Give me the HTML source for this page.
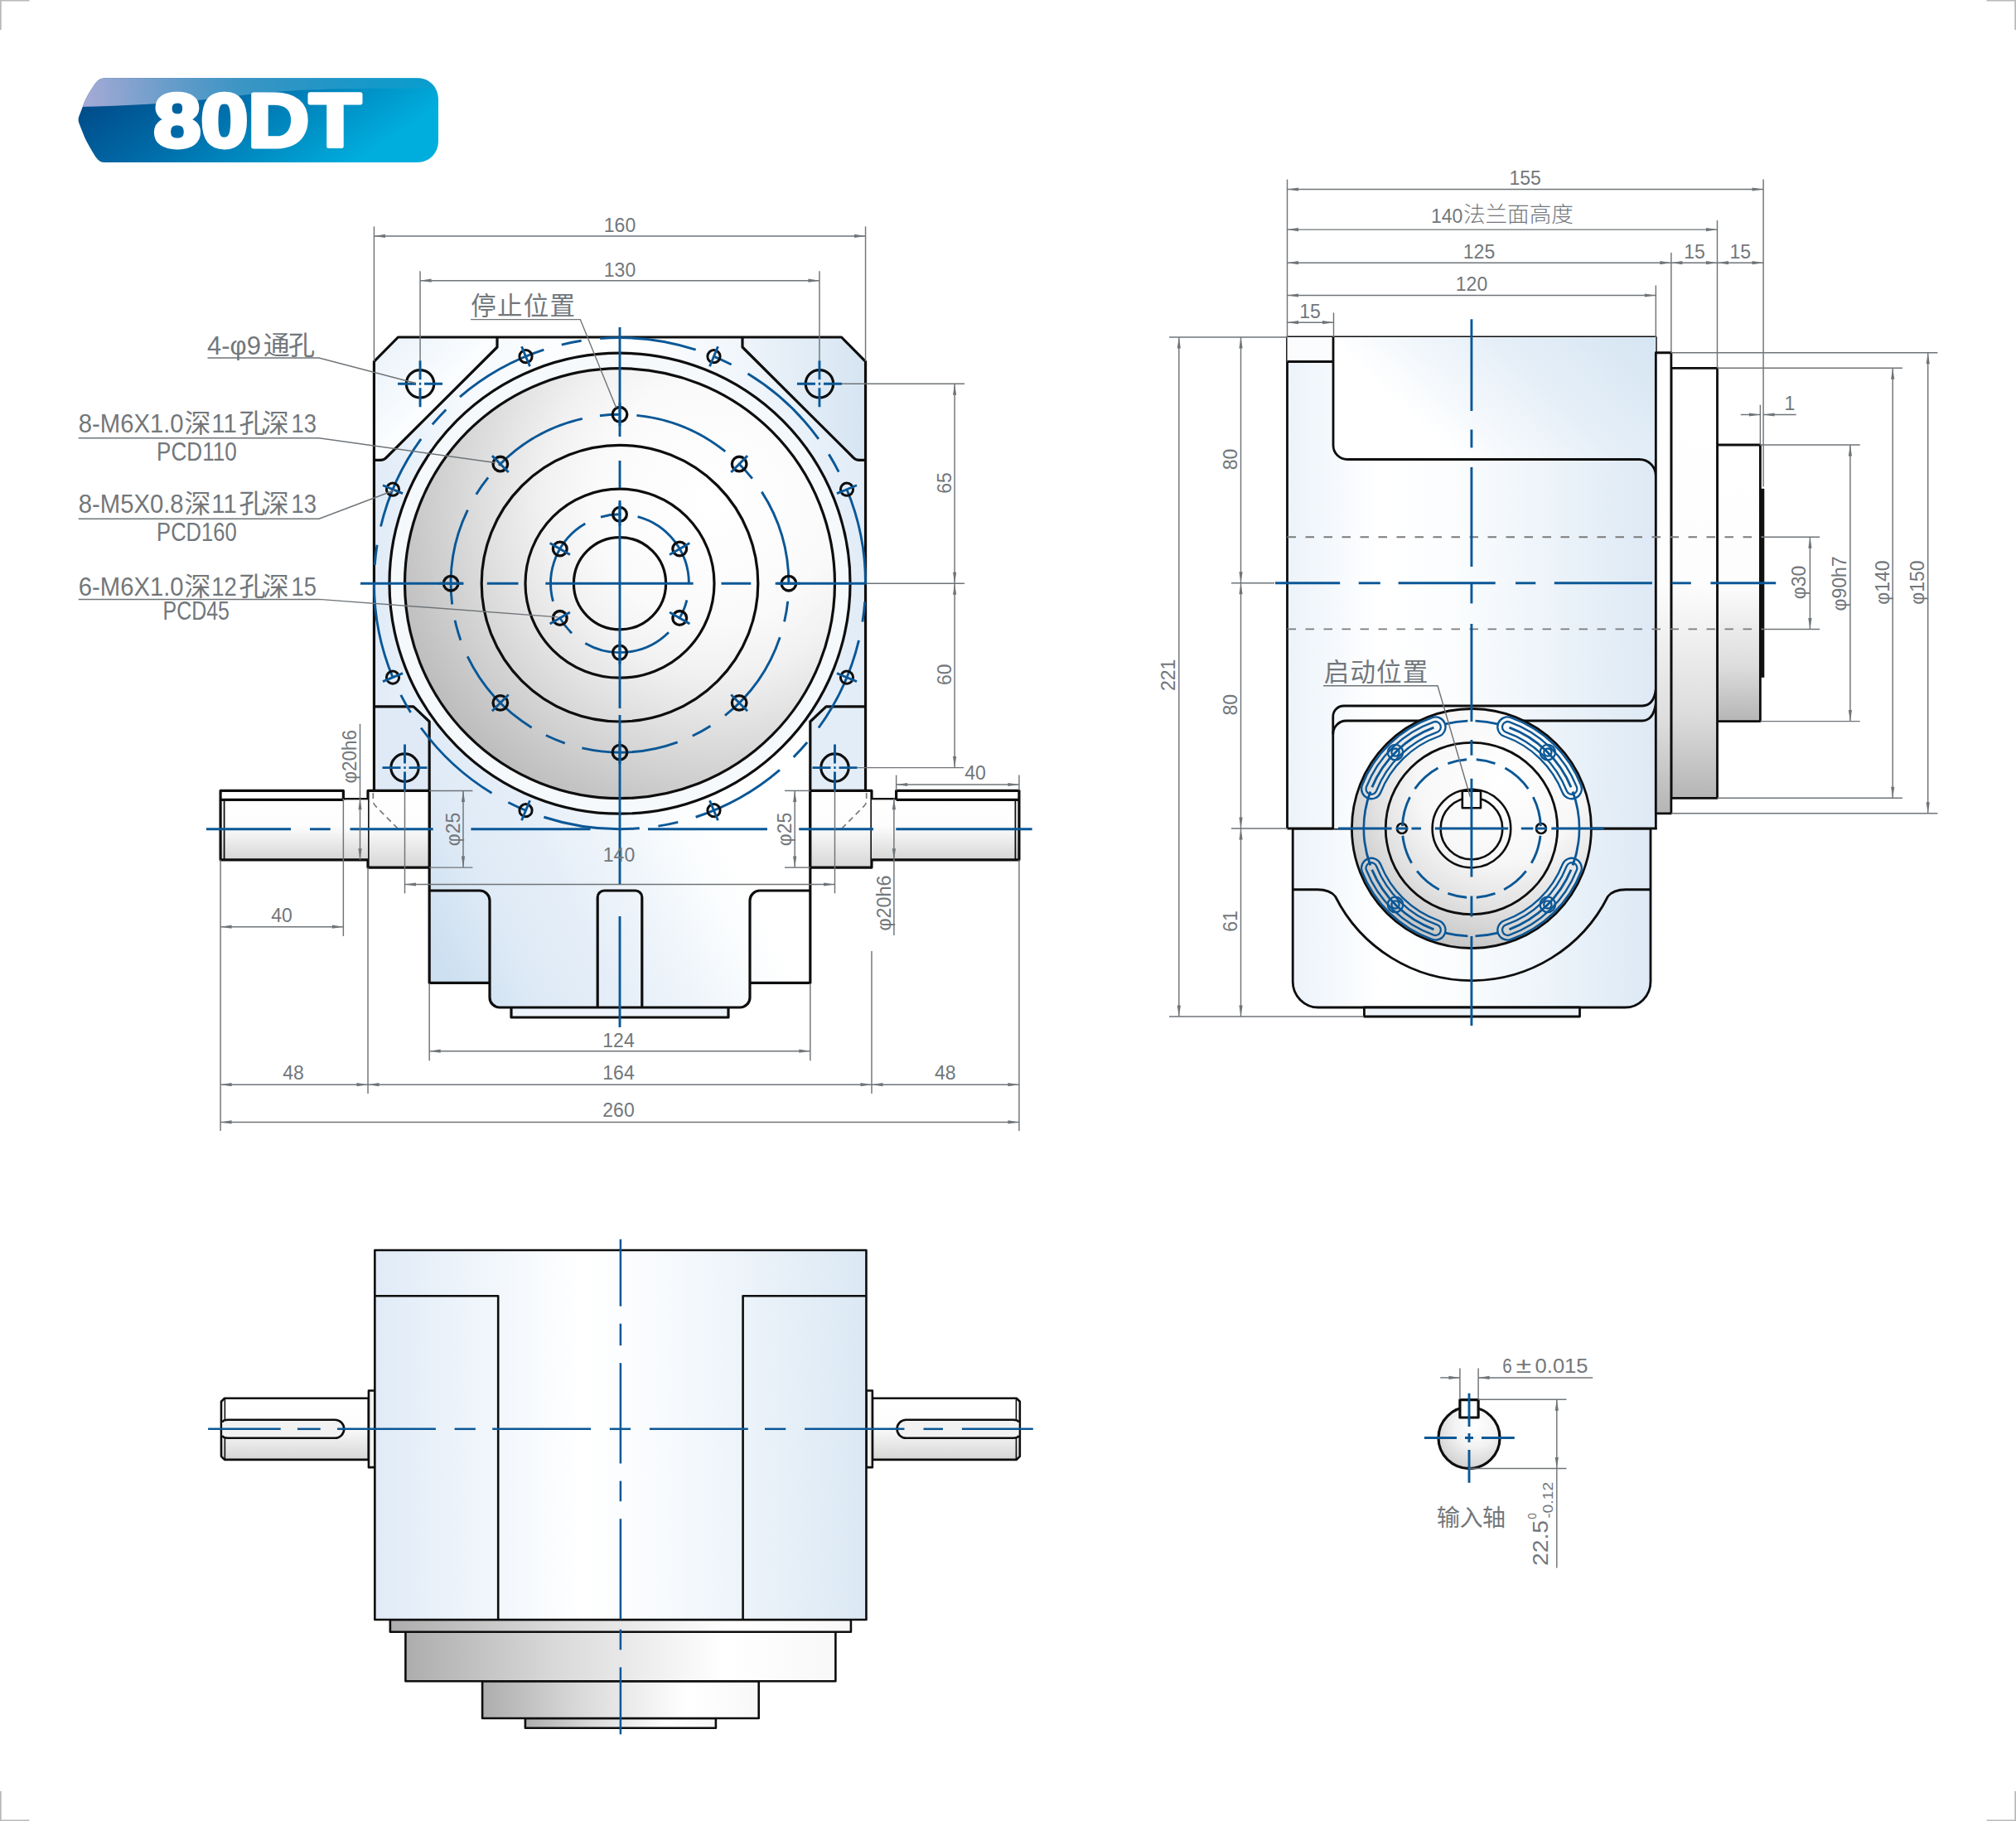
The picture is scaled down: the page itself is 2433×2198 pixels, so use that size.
<!DOCTYPE html>
<html lang="zh-CN"><head><meta charset="utf-8"><title>80DT</title>
<style>
html,body{margin:0;padding:0;background:#fff;}
body{width:2433px;height:2198px;overflow:hidden;}
svg{display:block;}
.k{stroke:#0e0e0e;stroke-width:var(--kw,3.2);stroke-linejoin:round;stroke-linecap:butt;}
.k2{stroke:#0e0e0e;stroke-width:2.6;stroke-linejoin:round;}
.b{stroke:#0a5796;stroke-width:var(--bw,2.9);}
.g{stroke:#6f7478;stroke-width:1.45;}
.hd{stroke:#7b7b7b;stroke-width:1.9;stroke-dasharray:10.5 11.5;}
.hd2{stroke:#7b7b7b;stroke-width:1.7;stroke-dasharray:7 5;}
.ar{fill:#6f7478;stroke:none;}
.t{font-family:"Liberation Sans","Noto Sans CJK SC",sans-serif;fill:#72777b;}
.m{font-family:"Liberation Sans","Noto Sans CJK SC",sans-serif;fill:#72777b;}
.c{font-family:"Liberation Sans","Noto Sans CJK SC",sans-serif;font-weight:400;fill:#72777b;}
.nf{stroke:none;}
</style></head><body>
<svg width="2433" height="2198" viewBox="0 0 2433 2198">
<defs>
<linearGradient id="badge" x1="0" y1="0" x2="1" y2="0.35">
<stop offset="0" stop-color="#00417f"/><stop offset="0.45" stop-color="#006ba8"/><stop offset="1" stop-color="#00aedd"/>
</linearGradient>
<linearGradient id="gloss" x1="0" y1="0" x2="1" y2="0">
<stop offset="0" stop-color="#b7b1dc" stop-opacity="0.95"/><stop offset="0.45" stop-color="#4aa0cc" stop-opacity="0.8"/><stop offset="1" stop-color="#0b9ccb" stop-opacity="0.6"/>
</linearGradient>
<linearGradient id="bodyF" x1="0" y1="0" x2="1" y2="0">
<stop offset="0" stop-color="#e0ebf7"/><stop offset="0.18" stop-color="#f5f9fd"/><stop offset="0.5" stop-color="#ffffff"/><stop offset="0.85" stop-color="#ebf2fa"/><stop offset="1" stop-color="#e1ecf7"/>
</linearGradient>
<linearGradient id="lowF" x1="0" y1="0.75" x2="0.9" y2="0.4">
<stop offset="0" stop-color="#cde0f1"/><stop offset="0.1" stop-color="#d6e5f3"/><stop offset="0.2" stop-color="#deeaf6"/><stop offset="0.4" stop-color="#e5eef8"/><stop offset="0.58" stop-color="#eef4fa"/><stop offset="0.73" stop-color="#f8fbfd"/><stop offset="0.88" stop-color="#ffffff"/>
</linearGradient>
<linearGradient id="earL" x1="0" y1="0" x2="1" y2="1">
<stop offset="0" stop-color="#e9f1f9"/><stop offset="0.5" stop-color="#fbfdff"/><stop offset="1" stop-color="#e4eef8"/>
</linearGradient>
<linearGradient id="earR" x1="0" y1="0" x2="1" y2="0">
<stop offset="0" stop-color="#eef4fa"/><stop offset="1" stop-color="#d6e5f2"/>
</linearGradient>
<radialGradient id="disc" cx="0.72" cy="0.31" r="1" fx="0.72" fy="0.31">
<stop offset="0" stop-color="#ffffff"/><stop offset="0.28" stop-color="#fafafa"/><stop offset="0.4" stop-color="#f1f1f1"/><stop offset="0.5" stop-color="#e4e4e4"/><stop offset="0.58" stop-color="#d9d9d9"/><stop offset="0.66" stop-color="#cecece"/><stop offset="0.74" stop-color="#c3c3c3"/><stop offset="0.85" stop-color="#b5b5b5"/><stop offset="1" stop-color="#aaaaaa"/>
</radialGradient>
<linearGradient id="shaft" x1="0" y1="0" x2="0" y2="1">
<stop offset="0" stop-color="#ffffff"/><stop offset="0.45" stop-color="#fdfdfd"/><stop offset="1" stop-color="#d6d6d6"/>
</linearGradient>
<linearGradient id="sideB" x1="0" y1="0" x2="1" y2="0">
<stop offset="0" stop-color="#ecf3fa"/><stop offset="0.25" stop-color="#ffffff"/><stop offset="0.45" stop-color="#fbfdfe"/><stop offset="1" stop-color="#dde9f5"/>
</linearGradient>
<linearGradient id="sideU" x1="0" y1="0.4" x2="1" y2="0">
<stop offset="0" stop-color="#ffffff"/><stop offset="0.12" stop-color="#ffffff"/><stop offset="0.55" stop-color="#e6eff8"/><stop offset="1" stop-color="#d5e5f2"/>
</linearGradient>
<linearGradient id="sideD" x1="0" y1="0" x2="0" y2="1">
<stop offset="0" stop-color="#ffffff"/><stop offset="0.5" stop-color="#fdfdfd"/><stop offset="0.8" stop-color="#dddddd"/><stop offset="1" stop-color="#b5b5b5"/>
</linearGradient>
<radialGradient id="flange" cx="0.62" cy="0.3" r="0.85" fx="0.62" fy="0.3">
<stop offset="0" stop-color="#ffffff"/><stop offset="0.4" stop-color="#f7f7f7"/><stop offset="0.62" stop-color="#e2e2e2"/><stop offset="0.8" stop-color="#cbcbcb"/><stop offset="1" stop-color="#b2b2b2"/>
</radialGradient>
<linearGradient id="botB" x1="0" y1="0" x2="1" y2="0">
<stop offset="0" stop-color="#e0ebf7"/><stop offset="0.42" stop-color="#ffffff"/><stop offset="0.6" stop-color="#f7fafd"/><stop offset="1" stop-color="#dbe8f4"/>
</linearGradient>
<linearGradient id="botD" x1="0" y1="0" x2="1" y2="0">
<stop offset="0" stop-color="#adadad"/><stop offset="0.35" stop-color="#d9d9d9"/><stop offset="0.74" stop-color="#ffffff"/><stop offset="1" stop-color="#f8f8f8"/>
</linearGradient>
<radialGradient id="keyc" cx="0.6" cy="0.3" r="0.85" fx="0.6" fy="0.3">
<stop offset="0" stop-color="#ffffff"/><stop offset="0.4" stop-color="#f3f3f3"/><stop offset="0.75" stop-color="#d8d8d8"/><stop offset="1" stop-color="#c0c0c0"/>
</radialGradient>
</defs>
<rect x="0" y="0" width="2433" height="2198" fill="#ffffff"/>
<path d="M0 0.7H35.5M0.8 0V36M2433 0.7H2397.5M2432.2 0V36M0 2197.3H35.5M0.8 2198V2162M2433 2197.3H2397.5M2432.2 2198V2162" stroke="#b9b9b9" stroke-width="1.8" fill="none"/>

<g id="badge80">
<path d="M127 94.2H504a25 25 0 0 1 25 25V171a25 25 0 0 1 -25 25H126C118 195.9 115 188.5 110.6 181.5C108 177.5 105 172 101.8 165.1L95.5 149Q93.6 144.5 95.5 140L101.8 123.6C105 116 111 106 116 99.6C118 97 121 94.2 127 94.2Z" fill="url(#badge)"/>
<clipPath id="bclip"><path d="M127 94.2H504a25 25 0 0 1 25 25V171a25 25 0 0 1 -25 25H126C118 195.9 115 188.5 110.6 181.5C108 177.5 105 172 101.8 165.1L95.5 149Q93.6 144.5 95.5 140L101.8 123.6C105 116 111 106 116 99.6C118 97 121 94.2 127 94.2Z"/></clipPath>
<path clip-path="url(#bclip)" d="M90 90H535V106.5C490 107.5 380 104 300 114C230 123 170 127.5 90 129Z" fill="url(#gloss)"/>
<text x="310.6" y="176.6" font-family="'Liberation Sans',sans-serif" font-weight="bold" font-size="90" text-anchor="middle" fill="#fff" stroke="#fff" stroke-width="5" stroke-linejoin="round" textLength="250" lengthAdjust="spacingAndGlyphs">80DT</text>
</g>
<g id="front">
<path class="nf" fill="url(#bodyF)" d="M451.44 436.4L480.44 407.0H1015.56L1044.56 436.4V954.42H451.44Z"/>
<path class="nf" fill="url(#lowF)" d="M518.17 871V1186.3H591V1204a12 12 0 0 0 12 12H893a12 12 0 0 0 12 -12V1186.3H977.83V871Z"/>
<rect class="nf" fill="#edf3fa" x="617" y="1216" width="262" height="12"/>
<path class="nf" fill="url(#earL)" d="M451.44 436.4L480.44 407.0H600V419L465 553.3L461 555.3H451.44Z"/>
<path class="nf" fill="url(#earR)" d="M1044.56 436.4L1015.56 407.0H896V419L1031 553.3L1035 555.3H1044.56Z"/>
<path class="nf" fill="#dfeaf6" d="M451.44 852.9H499L518.17 871V954.42H451.44Z"/>
<path class="nf" fill="#e3edf7" d="M1044.56 852.9H997L977.83 871V954.42H1044.56Z"/>
<circle class="k" cx="748" cy="704.2" r="278.02" fill="#f6f9fc"/>
<circle class="k" cx="748" cy="704.2" r="259.49" fill="url(#disc)"/>
<circle class="k" cx="748" cy="704.2" r="166.81"  fill="none"/>
<circle class="k" cx="748" cy="704.2" r="114"  fill="none"/>
<circle class="k" cx="748" cy="704.2" r="55.6"  fill="none"/>
<path class="k" d="M451.44 954.42V436.4L480.44 407.0H1015.56L1044.56 436.4V954.42"  fill="none"/>
<path class="k" d="M600 407.0V419L466 552.5Q463.5 555.3 459 555.3H451.44"  fill="none"/>
<path class="k" d="M896 407.0V419L1030 552.5Q1032.5 555.3 1037 555.3H1044.56"  fill="none"/>
<path class="k" d="M451.44 852.9H499L518.17 871V1186.3H591"  fill="none"/>
<path class="k" d="M1044.56 852.9H997L977.83 871V1186.3H905"  fill="none"/>
<path class="k" d="M518.17 1075H579a12 12 0 0 1 12 12V1204a12 12 0 0 0 12 12H893a12 12 0 0 0 12 -12V1087a12 12 0 0 1 12 -12H977.83"  fill="none"/>
<path class="k" d="M721.2 1216V1083a8 8 0 0 1 8 -8H766.8a8 8 0 0 1 8 8V1216"  fill="none"/>
<path class="k" d="M617 1216V1228H879V1216"  fill="none"/>
<rect class="k" x="444.03" y="954.42" width="74.14" height="92.68" fill="url(#shaft)"/>
<rect class="k" x="977.83" y="954.42" width="74.14" height="92.68" fill="url(#shaft)"/>
<rect class="nf" x="266.09" y="963.69" width="177.94" height="74.14" fill="url(#shaft)"/>
<rect class="nf" x="266.09" y="954.4" width="148.28" height="11" fill="#ffffff"/>
<path class="k" d="M444.03 1037.83H266.09V954.4H414.37V965.4"  fill="none"/>
<line class="k" x1="266.09" y1="965.4" x2="414.37" y2="965.4" />
<line class="k2" x1="414.37" y1="964.2" x2="444.03" y2="964.2" style="stroke-width:2.3"/>
<line class="k2" x1="270.59" y1="966" x2="270.59" y2="1037.83" style="stroke-width:1.8"/>
<rect class="nf" x="1051.97" y="963.69" width="177.94" height="74.14" fill="url(#shaft)"/>
<rect class="nf" x="1081.63" y="954.4" width="148.28" height="11" fill="#ffffff"/>
<path class="k" d="M1051.97 1037.83H1229.91V954.4H1081.63V965.4"  fill="none"/>
<line class="k" x1="1229.91" y1="965.4" x2="1081.63" y2="965.4" />
<line class="k2" x1="1081.63" y1="964.2" x2="1051.97" y2="964.2" style="stroke-width:2.3"/>
<line class="k2" x1="1225.41" y1="966" x2="1225.41" y2="1037.83" style="stroke-width:1.8"/>
<path class="hd2" d="M450.3 957V966Q450.3 970 453 972.7L480 1000"  fill="none"/>
<path class="hd2" d="M1045.7 957V966Q1045.7 970 1043 972.7L1016 1000"  fill="none"/>
<circle class="k" cx="507.05" cy="463.25" r="16.68"  fill="none"/>
<path class="b" d="M480.05 463.25H502.05M505.85 463.25H508.25M512.05 463.25H534.05M507.05 435.25V458.25M507.05 468.25V491.25"  fill="none"/>
<circle class="k" cx="988.95" cy="463.25" r="16.68"  fill="none"/>
<path class="b" d="M961.95 463.25H983.95M987.75 463.25H990.15M993.95 463.25H1015.95M988.95 435.25V458.25M988.95 468.25V491.25"  fill="none"/>
<circle class="k" cx="488.51" cy="926.62" r="16.68"  fill="none"/>
<path class="b" d="M461.51 926.62H483.51M487.31 926.62H489.71M493.51 926.62H515.51M488.51 898.62V921.62M488.51 931.62V954.62"  fill="none"/>
<circle class="k" cx="1007.49" cy="926.62" r="16.68"  fill="none"/>
<path class="b" d="M980.49 926.62H1002.49M1006.29 926.62H1008.69M1012.49 926.62H1034.49M1007.49 898.62V921.62M1007.49 931.62V954.62"  fill="none"/>
<path class="b" d="M555.01 479.03A296.56 296.56 0 0 1 656.36 422.15"  fill="none"/>
<path class="b" d="M521.82 512.39A296.56 296.56 0 0 1 538.3 494.5"  fill="none"/>
<path class="b" d="M459.51 635.47A296.56 296.56 0 0 1 508.08 529.89"  fill="none"/>
<path class="b" d="M452.27 681.96A296.56 296.56 0 0 1 455.09 657.81"  fill="none"/>
<path class="b" d="M474.21 818.17A296.56 296.56 0 0 1 451.44 704.2"  fill="none"/>
<path class="b" d="M495.68 860.03A296.56 296.56 0 0 1 483.76 838.84"  fill="none"/>
<path class="b" d="M593.49 957.33A296.56 296.56 0 0 1 508.08 878.51"  fill="none"/>
<path class="b" d="M635.47 978.58A296.56 296.56 0 0 1 613.36 968.44"  fill="none"/>
<path class="b" d="M771.78 999.8A296.56 296.56 0 0 1 656.36 986.25"  fill="none"/>
<path class="b" d="M818.24 992.32A296.56 296.56 0 0 1 794.39 997.11"  fill="none"/>
<path class="b" d="M940.99 929.37A296.56 296.56 0 0 1 839.64 986.25"  fill="none"/>
<path class="b" d="M974.18 896.01A296.56 296.56 0 0 1 957.7 913.9"  fill="none"/>
<path class="b" d="M1036.49 772.93A296.56 296.56 0 0 1 987.92 878.51"  fill="none"/>
<path class="b" d="M1043.73 726.44A296.56 296.56 0 0 1 1040.91 750.59"  fill="none"/>
<path class="b" d="M1021.79 590.23A296.56 296.56 0 0 1 1044.56 704.2"  fill="none"/>
<path class="b" d="M1000.32 548.37A296.56 296.56 0 0 1 1012.24 569.56"  fill="none"/>
<path class="b" d="M902.51 451.07A296.56 296.56 0 0 1 987.92 529.89"  fill="none"/>
<path class="b" d="M860.53 429.82A296.56 296.56 0 0 1 882.64 439.96"  fill="none"/>
<path class="b" d="M724.22 408.6A296.56 296.56 0 0 1 839.64 422.15"  fill="none"/>
<path class="b" d="M677.76 416.08A296.56 296.56 0 0 1 701.61 411.29"  fill="none"/>
<path class="b" d="M602.08 561.8A203.88 203.88 0 0 1 702.83 505.38"  fill="none"/>
<path class="b" d="M574.72 596.76A203.88 203.88 0 0 1 589.1 576.44"  fill="none"/>
<path class="b" d="M545.69 729.5A203.88 203.88 0 0 1 564.39 615.55"  fill="none"/>
<path class="b" d="M555.96 772.69A203.88 203.88 0 0 1 549.05 748.78"  fill="none"/>
<path class="b" d="M641.64 878.15A203.88 203.88 0 0 1 564.22 792.48"  fill="none"/>
<path class="b" d="M681.81 897.04A203.88 203.88 0 0 1 658.81 887.54"  fill="none"/>
<path class="b" d="M817.69 895.81A203.88 203.88 0 0 1 702.43 902.93"  fill="none"/>
<path class="b" d="M857.5 876.18A203.88 203.88 0 0 1 835.73 888.25"  fill="none"/>
<path class="b" d="M941.25 769.18A203.88 203.88 0 0 1 874.96 863.73"  fill="none"/>
<path class="b" d="M950.74 725.82A203.88 203.88 0 0 1 946.59 750.36"  fill="none"/>
<path class="b" d="M919.3 593.63A203.88 203.88 0 0 1 951.88 704.4"  fill="none"/>
<path class="b" d="M891.3 559.17A203.88 203.88 0 0 1 907.91 577.72"  fill="none"/>
<path class="b" d="M768.35 501.33A203.88 203.88 0 0 1 875.28 544.92"  fill="none"/>
<path class="b" d="M723.96 501.74A203.88 203.88 0 0 1 748.81 500.32"  fill="none"/>
<path class="b" d="M769.59 623.63A83.41 83.41 0 0 1 831.41 704.2"  fill="none"/>
<path class="b" d="M828.93 724.38A83.41 83.41 0 0 1 819.49 747.16"  fill="none"/>
<path class="b" d="M806.98 763.18A83.41 83.41 0 0 1 706.3 776.43"  fill="none"/>
<path class="b" d="M690.06 764.2A83.41 83.41 0 0 1 675.05 744.64"  fill="none"/>
<path class="b" d="M667.43 725.79A83.41 83.41 0 0 1 706.3 631.97"  fill="none"/>
<path class="b" d="M725.01 624.02A83.41 83.41 0 0 1 749.46 620.81"  fill="none"/>
<circle class="k" cx="861.49" cy="430.21" r="7.6" style="stroke-width:3" fill="none"/>
<line class="b" x1="856.51" y1="442.22" x2="866.46" y2="418.2" />
<circle class="k" cx="1021.99" cy="590.71" r="7.6" style="stroke-width:3" fill="none"/>
<line class="b" x1="1009.98" y1="595.69" x2="1034" y2="585.74" />
<circle class="k" cx="1021.99" cy="817.69" r="7.6" style="stroke-width:3" fill="none"/>
<line class="b" x1="1009.98" y1="812.71" x2="1034" y2="822.66" />
<circle class="k" cx="861.49" cy="978.19" r="7.6" style="stroke-width:3" fill="none"/>
<line class="b" x1="856.51" y1="966.18" x2="866.46" y2="990.2" />
<circle class="k" cx="634.51" cy="978.19" r="7.6" style="stroke-width:3" fill="none"/>
<line class="b" x1="639.49" y1="966.18" x2="629.54" y2="990.2" />
<circle class="k" cx="474.01" cy="817.69" r="7.6" style="stroke-width:3" fill="none"/>
<line class="b" x1="486.02" y1="812.71" x2="462" y2="822.66" />
<circle class="k" cx="474.01" cy="590.71" r="7.6" style="stroke-width:3" fill="none"/>
<line class="b" x1="486.02" y1="595.69" x2="462" y2="585.74" />
<circle class="k" cx="634.51" cy="430.21" r="7.6" style="stroke-width:3" fill="none"/>
<line class="b" x1="639.49" y1="442.22" x2="629.54" y2="418.2" />
<circle class="k" cx="748" cy="500.32" r="8.8" style="stroke-width:3.3" fill="none"/>
<line class="b" x1="748" y1="514.32" x2="748" y2="486.32" />
<circle class="k" cx="892.17" cy="560.03" r="8.8" style="stroke-width:3.3" fill="none"/>
<line class="b" x1="882.27" y1="569.93" x2="902.07" y2="550.13" />
<circle class="k" cx="951.88" cy="704.2" r="8.8" style="stroke-width:3.3" fill="none"/>
<line class="b" x1="937.88" y1="704.2" x2="965.88" y2="704.2" />
<circle class="k" cx="892.17" cy="848.37" r="8.8" style="stroke-width:3.3" fill="none"/>
<line class="b" x1="882.27" y1="838.47" x2="902.07" y2="858.27" />
<circle class="k" cx="748" cy="908.09" r="8.8" style="stroke-width:3.3" fill="none"/>
<line class="b" x1="748" y1="894.09" x2="748" y2="922.09" />
<circle class="k" cx="603.83" cy="848.37" r="8.8" style="stroke-width:3.3" fill="none"/>
<line class="b" x1="613.73" y1="838.47" x2="593.93" y2="858.27" />
<circle class="k" cx="544.12" cy="704.2" r="8.8" style="stroke-width:3.3" fill="none"/>
<line class="b" x1="558.12" y1="704.2" x2="530.12" y2="704.2" />
<circle class="k" cx="603.83" cy="560.03" r="8.8" style="stroke-width:3.3" fill="none"/>
<line class="b" x1="613.73" y1="569.93" x2="593.93" y2="550.13" />
<circle class="k" cx="748" cy="620.79" r="8.4" style="stroke-width:3.3" fill="none"/>
<line class="b" x1="748" y1="634.79" x2="748" y2="606.79" />
<circle class="k" cx="820.23" cy="662.5" r="8.4" style="stroke-width:3.3" fill="none"/>
<line class="b" x1="808.11" y1="669.5" x2="832.36" y2="655.5" />
<circle class="k" cx="820.23" cy="745.9" r="8.4" style="stroke-width:3.3" fill="none"/>
<line class="b" x1="808.11" y1="738.9" x2="832.36" y2="752.9" />
<circle class="k" cx="748" cy="787.61" r="8.4" style="stroke-width:3.3" fill="none"/>
<line class="b" x1="748" y1="773.61" x2="748" y2="801.61" />
<circle class="k" cx="675.77" cy="745.9" r="8.4" style="stroke-width:3.3" fill="none"/>
<line class="b" x1="687.89" y1="738.9" x2="663.64" y2="752.9" />
<circle class="k" cx="675.77" cy="662.5" r="8.4" style="stroke-width:3.3" fill="none"/>
<line class="b" x1="687.89" y1="669.5" x2="663.64" y2="655.5" />
<line class="b" x1="435" y1="704.2" x2="559.5" y2="704.2" />
<line class="b" x1="587.8" y1="704.2" x2="625.5" y2="704.2" />
<line class="b" x1="658.3" y1="704.2" x2="836.6" y2="704.2" />
<line class="b" x1="870.5" y1="704.2" x2="906.3" y2="704.2" />
<line class="b" x1="935.7" y1="704.2" x2="1045.8" y2="704.2" />
<line class="b" x1="748" y1="395" x2="748" y2="527" />
<line class="b" x1="748" y1="556" x2="748" y2="589" />
<line class="b" x1="748" y1="604" x2="748" y2="855" />
<line class="b" x1="748" y1="863" x2="748" y2="1068" />
<line class="b" x1="748" y1="1106" x2="748" y2="1240" />
<line class="b" x1="249" y1="1000.76" x2="351" y2="1000.76" />
<line class="b" x1="374" y1="1000.76" x2="398.7" y2="1000.76" />
<line class="b" x1="422.5" y1="1000.76" x2="522.7" y2="1000.76" />
<line class="b" x1="568.4" y1="1000.76" x2="712.5" y2="1000.76" />
<line class="b" x1="782" y1="1000.76" x2="926" y2="1000.76" />
<line class="b" x1="964.2" y1="1000.76" x2="1054" y2="1000.76" />
<line class="b" x1="1081.3" y1="1000.76" x2="1245.6" y2="1000.76" />
</g>
<g id="frontdims">
<line class="g" x1="451.44" y1="273.4" x2="451.44" y2="436" />
<line class="g" x1="1044.56" y1="273.4" x2="1044.56" y2="436" />
<line class="g" x1="451.44" y1="284.9" x2="1044.56" y2="284.9" />
<polygon class="ar" points="451.44,284.9 464.94,282.8 464.94,287"/>
<polygon class="ar" points="1044.56,284.9 1031.06,287 1031.06,282.8"/>
<text class="t" x="748" y="280.3" font-size="23" text-anchor="middle" >160</text>
<line class="g" x1="507.05" y1="327.2" x2="507.05" y2="436" />
<line class="g" x1="988.95" y1="327.2" x2="988.95" y2="436" />
<line class="g" x1="507.05" y1="338.7" x2="988.95" y2="338.7" />
<polygon class="ar" points="507.05,338.7 520.55,336.6 520.55,340.8"/>
<polygon class="ar" points="988.95,338.7 975.45,340.8 975.45,336.6"/>
<text class="t" x="748" y="333.8" font-size="23" text-anchor="middle" >130</text>
<text class="m" y="379.8"><tspan x="568.34" font-size="30.5" textLength="125.71" lengthAdjust="spacing">停止位置</tspan></text>
<path class="g" d="M568 385.6H700.3L743.7 492.2"  fill="none"/>
<line class="g" x1="1016" y1="463.25" x2="1164" y2="463.25" />
<line class="g" x1="1045.8" y1="704.2" x2="1164" y2="704.2" />
<line class="g" x1="1034" y1="926.62" x2="1163" y2="926.62" />
<line class="g" x1="1152.1" y1="463.25" x2="1152.1" y2="704.2" />
<polygon class="ar" points="1152.1,463.25 1154.2,476.75 1150,476.75"/>
<polygon class="ar" points="1152.1,704.2 1150,690.7 1154.2,690.7"/>
<line class="g" x1="1152.1" y1="704.2" x2="1152.1" y2="926.62" />
<polygon class="ar" points="1152.1,704.2 1154.2,717.7 1150,717.7"/>
<polygon class="ar" points="1152.1,926.62 1150,913.12 1154.2,913.12"/>
<text class="t" x="1148.2" y="583" font-size="23" text-anchor="middle" transform="rotate(-90 1148.2 583)" >65</text>
<text class="t" x="1148.2" y="814.3" font-size="23" text-anchor="middle" transform="rotate(-90 1148.2 814.3)" >60</text>
<text class="m" y="427.5"><tspan x="250.1" font-size="31" textLength="64.8" lengthAdjust="spacingAndGlyphs">4-φ9</tspan><tspan x="317.69" font-size="32" textLength="62.42" lengthAdjust="spacing">通孔</tspan></text>
<path class="g" d="M250.5 432H385L501.5 462.5"  fill="none"/>
<text class="m" y="522.3"><tspan x="94.8" font-size="31" textLength="126.8" lengthAdjust="spacingAndGlyphs">8-M6X1.0</tspan><tspan x="222.45" font-size="32">深</tspan><tspan x="255.3" font-size="31" textLength="30.5" lengthAdjust="spacingAndGlyphs">11</tspan><tspan x="288.53" font-size="32" textLength="60.35" lengthAdjust="spacing">孔深</tspan><tspan x="351.6" font-size="31" textLength="30.5" lengthAdjust="spacingAndGlyphs">13</tspan></text>
<path class="g" d="M94.7 528.7H385L597.83 558.53"  fill="none"/>
<text class="m" y="555.5"><tspan x="189.1" font-size="31" textLength="96.62" lengthAdjust="spacingAndGlyphs">PCD110</tspan></text>
<text class="m" y="619.3"><tspan x="94.8" font-size="31" textLength="126.8" lengthAdjust="spacingAndGlyphs">8-M5X0.8</tspan><tspan x="222.45" font-size="32">深</tspan><tspan x="255.3" font-size="31" textLength="30.5" lengthAdjust="spacingAndGlyphs">11</tspan><tspan x="288.53" font-size="32" textLength="60.35" lengthAdjust="spacing">孔深</tspan><tspan x="351.6" font-size="31" textLength="30.5" lengthAdjust="spacingAndGlyphs">13</tspan></text>
<path class="g" d="M94.7 626.2H385L476.01 591.71"  fill="none"/>
<text class="m" y="652.7"><tspan x="189.1" font-size="31" textLength="96.62" lengthAdjust="spacingAndGlyphs">PCD160</tspan></text>
<text class="m" y="719.2"><tspan x="94.8" font-size="31" textLength="126.8" lengthAdjust="spacingAndGlyphs">6-M6X1.0</tspan><tspan x="222.45" font-size="32">深</tspan><tspan x="255.3" font-size="31" textLength="30.5" lengthAdjust="spacingAndGlyphs">12</tspan><tspan x="288.53" font-size="32" textLength="60.35" lengthAdjust="spacing">孔深</tspan><tspan x="351.6" font-size="31" textLength="30.5" lengthAdjust="spacingAndGlyphs">15</tspan></text>
<path class="g" d="M94.7 723.4H385L673.77 744.9"  fill="none"/>
<text class="m" y="748.2"><tspan x="196.6" font-size="31" textLength="80.4" lengthAdjust="spacingAndGlyphs">PCD45</tspan></text>
<line class="g" x1="434.5" y1="873.7" x2="434.5" y2="1037.83" />
<polygon class="ar" points="434.5,963.69 436.6,977.19 432.4,977.19"/>
<polygon class="ar" points="434.5,1037.83 432.4,1024.33 436.6,1024.33"/>
<text class="t" x="429.5" y="945.5" font-size="23" text-anchor="start" transform="rotate(-90 429.5 945.5)" textLength="64.5" lengthAdjust="spacingAndGlyphs" >φ20h6</text>
<line class="g" x1="1078.9" y1="963.69" x2="1078.9" y2="1129" />
<polygon class="ar" points="1078.9,963.69 1081,977.19 1076.8,977.19"/>
<polygon class="ar" points="1078.9,1037.83 1076.8,1024.33 1081,1024.33"/>
<text class="t" x="1074.5" y="1123.5" font-size="23" text-anchor="start" transform="rotate(-90 1074.5 1123.5)" textLength="67" lengthAdjust="spacingAndGlyphs" >φ20h6</text>
<line class="g" x1="518.17" y1="954.42" x2="570.4" y2="954.42" />
<line class="g" x1="518.17" y1="1047.1" x2="570.4" y2="1047.1" />
<line class="g" x1="559" y1="954.42" x2="559" y2="1047.1" />
<polygon class="ar" points="559,954.42 561.1,967.92 556.9,967.92"/>
<polygon class="ar" points="559,1047.1 556.9,1033.6 561.1,1033.6"/>
<text class="t" x="554.5" y="1001" font-size="23" text-anchor="middle" transform="rotate(-90 554.5 1001)" >φ25</text>
<line class="g" x1="947" y1="954.42" x2="977.83" y2="954.42" />
<line class="g" x1="947" y1="1047.1" x2="977.83" y2="1047.1" />
<line class="g" x1="959.2" y1="954.42" x2="959.2" y2="1047.1" />
<polygon class="ar" points="959.2,954.42 961.3,967.92 957.1,967.92"/>
<polygon class="ar" points="959.2,1047.1 957.1,1033.6 961.3,1033.6"/>
<text class="t" x="954.9" y="1001" font-size="23" text-anchor="middle" transform="rotate(-90 954.9 1001)" >φ25</text>
<line class="g" x1="488.51" y1="954" x2="488.51" y2="1078.4" />
<line class="g" x1="1007.49" y1="954" x2="1007.49" y2="1078.4" />
<line class="g" x1="488.51" y1="1067.5" x2="1007.49" y2="1067.5" />
<polygon class="ar" points="488.51,1067.5 502.01,1065.4 502.01,1069.6"/>
<polygon class="ar" points="1007.49,1067.5 993.99,1069.6 993.99,1065.4"/>
<text class="t" x="747" y="1040.4" font-size="23" text-anchor="middle" >140</text>
<line class="g" x1="414.37" y1="964" x2="414.37" y2="1130" />
<line class="g" x1="266.09" y1="1118.7" x2="414.37" y2="1118.7" />
<polygon class="ar" points="266.09,1118.7 279.59,1116.6 279.59,1120.8"/>
<polygon class="ar" points="414.37,1118.7 400.87,1120.8 400.87,1116.6"/>
<text class="t" x="340" y="1112.6" font-size="23" text-anchor="middle" >40</text>
<line class="g" x1="1081.63" y1="935.6" x2="1081.63" y2="954" />
<line class="g" x1="1229.91" y1="935.6" x2="1229.91" y2="954" />
<line class="g" x1="1081.63" y1="947" x2="1229.91" y2="947" />
<polygon class="ar" points="1081.63,947 1095.13,944.9 1095.13,949.1"/>
<polygon class="ar" points="1229.91,947 1216.41,949.1 1216.41,944.9"/>
<text class="t" x="1177" y="940.8" font-size="23" text-anchor="middle" >40</text>
<line class="g" x1="518.17" y1="1187" x2="518.17" y2="1280.3" />
<line class="g" x1="977.83" y1="1187" x2="977.83" y2="1280.3" />
<line class="g" x1="518.17" y1="1268.7" x2="977.83" y2="1268.7" />
<polygon class="ar" points="518.17,1268.7 531.67,1266.6 531.67,1270.8"/>
<polygon class="ar" points="977.83,1268.7 964.33,1270.8 964.33,1266.6"/>
<text class="t" x="746.5" y="1263.8" font-size="23" text-anchor="middle" >124</text>
<line class="g" x1="444.03" y1="1047.1" x2="444.03" y2="1320" />
<line class="g" x1="1051.97" y1="1148" x2="1051.97" y2="1320" />
<line class="g" x1="266.09" y1="1037.83" x2="266.09" y2="1365" />
<line class="g" x1="1229.91" y1="1037.83" x2="1229.91" y2="1365" />
<line class="g" x1="266.09" y1="1309.2" x2="444.03" y2="1309.2" />
<polygon class="ar" points="266.09,1309.2 279.59,1307.1 279.59,1311.3"/>
<polygon class="ar" points="444.03,1309.2 430.53,1311.3 430.53,1307.1"/>
<line class="g" x1="444.03" y1="1309.2" x2="1051.97" y2="1309.2" />
<polygon class="ar" points="444.03,1309.2 457.53,1307.1 457.53,1311.3"/>
<polygon class="ar" points="1051.97,1309.2 1038.47,1311.3 1038.47,1307.1"/>
<line class="g" x1="1051.97" y1="1309.2" x2="1229.91" y2="1309.2" />
<polygon class="ar" points="1051.97,1309.2 1065.47,1307.1 1065.47,1311.3"/>
<polygon class="ar" points="1229.91,1309.2 1216.41,1311.3 1216.41,1307.1"/>
<text class="t" x="354" y="1303.3" font-size="23" text-anchor="middle" >48</text>
<text class="t" x="746.5" y="1303.3" font-size="23" text-anchor="middle" >164</text>
<text class="t" x="1140.7" y="1303.3" font-size="23" text-anchor="middle" >48</text>
<line class="g" x1="266.09" y1="1354.4" x2="1229.91" y2="1354.4" />
<polygon class="ar" points="266.09,1354.4 279.59,1352.3 279.59,1356.5"/>
<polygon class="ar" points="1229.91,1354.4 1216.41,1356.5 1216.41,1352.3"/>
<text class="t" x="746.5" y="1348" font-size="23" text-anchor="middle" >260</text>
</g>
<g id="side" style="--kw:2.8">
<path class="k" fill="url(#sideB)" d="M1560.2 1000.0V1185a31 31 0 0 0 31 31H1961a31 31 0 0 0 31 -31V1000.0Z"/>
<rect class="k" x="1646.4" y="1216" width="260.1" height="11" fill="#eef4fa"/>
<rect class="nf" fill="url(#sideB)" x="1553.5" y="407.0" width="444.84" height="593"/>
<path class="k" d="M1553.5 1000.0V407.0H1998.34V1000.0M1553.5 1000.0H1608.75M1921 1000.0H1999.84"  fill="none"/>
<rect class="nf" x="1553.5" y="407" width="56" height="29.5" fill="#fafcfe"/>
<path class="nf" fill="url(#sideU)" d="M1609 407.0V537.5a17 17 0 0 0 17 17H1998.34V407.0Z"/>
<path class="k" d="M1553.5 436.5H1609"  fill="none"/>
<path class="k" d="M1609 407.0V537.5a17 17 0 0 0 17 17H1978.34a20 20 0 0 1 20 20"  fill="none"/>
<path class="k" d="M1608.75 1000.0V865a13 13 0 0 1 13 -13H1982Q1996 851.5 1998.34 832"  fill="none"/>
<path class="k" d="M1608.75 886a16 16 0 0 1 16 -16H1982Q1995.5 869.5 1998.34 849"  fill="none"/>
<path class="k" d="M1560.2 1073.75H1590Q1605 1073.75 1611.5 1082A184 184 0 0 0 1940.5 1082Q1947 1073.75 1962 1073.75H1992"  fill="none"/>
<rect class="k" x="2072.48" y="536.98" width="51.9" height="333.63" fill="url(#sideD)"/>
<rect class="k" x="2016.88" y="444.31" width="55.61" height="518.98" fill="url(#sideD)"/>
<rect class="k" x="1998.34" y="425.77" width="18.54" height="556.05" fill="url(#sideD)"/>
<rect class="nf" x="2124.38" y="589.8" width="4.91" height="228" fill="#111"/>
<line class="hd" x1="1553.5" y1="648.19" x2="2128.09" y2="648.19" />
<line class="hd" x1="1553.5" y1="759.4" x2="2128.09" y2="759.4" />
<circle class="k" cx="1775.92" cy="1000" r="144.5" fill="url(#flange)"/>
<circle class="k" cx="1775.92" cy="1000" r="103.7"  fill="none"/>
<circle class="k2" cx="1775.92" cy="1000" r="47.3"  fill="none"/>
<circle class="k2" cx="1775.92" cy="1000" r="37.3"  fill="none"/>
<rect class="k2" x="1764.82" y="954.6" width="22.2" height="20.6" fill="#fbfbfb"/>
<circle class="k2" cx="1691.92" cy="1000" r="6"  fill="none"/>
<circle class="k2" cx="1859.92" cy="1000" r="6"  fill="none"/>
<path class="b" d="M1781.74 916.7A83.5 83.5 0 0 1 1804.48 921.54"  fill="none"/>
<path class="b" d="M1816.4 926.97A83.5 83.5 0 0 1 1844.32 952.11"  fill="none"/>
<path class="b" d="M1850.32 962.09A83.5 83.5 0 0 1 1859.37 997.09"  fill="none"/>
<path class="b" d="M1858.96 1008.73A83.5 83.5 0 0 1 1848.23 1041.75"  fill="none"/>
<path class="b" d="M1841.72 1051.41A83.5 83.5 0 0 1 1815.12 1073.73"  fill="none"/>
<path class="b" d="M1804.48 1078.46A83.5 83.5 0 0 1 1781.74 1083.3"  fill="none"/>
<path class="b" d="M1770.1 1083.3A83.5 83.5 0 0 1 1747.36 1078.46"  fill="none"/>
<path class="b" d="M1736.72 1073.73A83.5 83.5 0 0 1 1710.12 1051.41"  fill="none"/>
<path class="b" d="M1703.61 1041.75A83.5 83.5 0 0 1 1692.88 1008.73"  fill="none"/>
<path class="b" d="M1692.47 997.09A83.5 83.5 0 0 1 1701.52 962.09"  fill="none"/>
<path class="b" d="M1707.52 952.11A83.5 83.5 0 0 1 1735.44 926.97"  fill="none"/>
<path class="b" d="M1747.36 921.54A83.5 83.5 0 0 1 1770.1 916.7"  fill="none"/>
<path class="b" d="M1780.46 870.08A130 130 0 0 1 1807.37 873.86"  fill="none"/>
<path class="b" d="M1898.08 955.54A130 130 0 0 1 1898.08 1044.46"  fill="none"/>
<path class="b" d="M1807.37 1126.14A130 130 0 0 1 1780.46 1129.92"  fill="none"/>
<path class="b" d="M1771.38 1129.92A130 130 0 0 1 1744.47 1126.14"  fill="none"/>
<path class="b" d="M1653.76 1044.46A130 130 0 0 1 1653.76 955.54"  fill="none"/>
<path class="b" d="M1744.47 873.86A130 130 0 0 1 1771.38 870.08"  fill="none"/>
<path class="b" d="M1823.32 866.14A142 142 0 0 1 1908.04 947.96A12 12 0 0 1 1885.71 956.75A118 118 0 0 0 1815.31 888.77A12 12 0 0 1 1823.32 866.14Z" style="stroke-width:2.3" fill="none"/>
<path class="b" d="M1821.48 871.33A136.5 136.5 0 0 1 1902.92 949.97A6.5 6.5 0 0 1 1890.83 954.74A123.5 123.5 0 0 0 1817.15 883.58A6.5 6.5 0 0 1 1821.48 871.33Z" style="stroke-width:2.3" fill="none"/>
<path class="b" d="M1821.45 878.23A130 130 0 0 1 1896.02 950.25"  fill="none"/>
<circle class="b" cx="1867.84" cy="908.08" r="9.2" style="stroke-width:2.3" fill="none"/>
<circle class="b" cx="1867.84" cy="908.08" r="4.6" style="stroke-width:2.3" fill="none"/>
<path class="b" d="M1908.04 1052.04A142 142 0 0 1 1823.32 1133.86A12 12 0 0 1 1815.31 1111.23A118 118 0 0 0 1885.71 1043.25A12 12 0 0 1 1908.04 1052.04Z" style="stroke-width:2.3" fill="none"/>
<path class="b" d="M1902.92 1050.03A136.5 136.5 0 0 1 1821.48 1128.67A6.5 6.5 0 0 1 1817.15 1116.42A123.5 123.5 0 0 0 1890.83 1045.26A6.5 6.5 0 0 1 1902.92 1050.03Z" style="stroke-width:2.3" fill="none"/>
<path class="b" d="M1896.02 1049.75A130 130 0 0 1 1821.45 1121.77"  fill="none"/>
<circle class="b" cx="1867.84" cy="1091.92" r="9.2" style="stroke-width:2.3" fill="none"/>
<circle class="b" cx="1867.84" cy="1091.92" r="4.6" style="stroke-width:2.3" fill="none"/>
<path class="b" d="M1728.52 1133.86A142 142 0 0 1 1643.8 1052.04A12 12 0 0 1 1666.13 1043.25A118 118 0 0 0 1736.53 1111.23A12 12 0 0 1 1728.52 1133.86Z" style="stroke-width:2.3" fill="none"/>
<path class="b" d="M1730.36 1128.67A136.5 136.5 0 0 1 1648.92 1050.03A6.5 6.5 0 0 1 1661.01 1045.26A123.5 123.5 0 0 0 1734.69 1116.42A6.5 6.5 0 0 1 1730.36 1128.67Z" style="stroke-width:2.3" fill="none"/>
<path class="b" d="M1730.39 1121.77A130 130 0 0 1 1655.82 1049.75"  fill="none"/>
<circle class="b" cx="1684" cy="1091.92" r="9.2" style="stroke-width:2.3" fill="none"/>
<circle class="b" cx="1684" cy="1091.92" r="4.6" style="stroke-width:2.3" fill="none"/>
<path class="b" d="M1643.8 947.96A142 142 0 0 1 1728.52 866.14A12 12 0 0 1 1736.53 888.77A118 118 0 0 0 1666.13 956.75A12 12 0 0 1 1643.8 947.96Z" style="stroke-width:2.3" fill="none"/>
<path class="b" d="M1648.92 949.97A136.5 136.5 0 0 1 1730.36 871.33A6.5 6.5 0 0 1 1734.69 883.58A123.5 123.5 0 0 0 1661.01 954.74A6.5 6.5 0 0 1 1648.92 949.97Z" style="stroke-width:2.3" fill="none"/>
<path class="b" d="M1655.82 950.25A130 130 0 0 1 1730.39 878.23"  fill="none"/>
<circle class="b" cx="1684" cy="908.08" r="9.2" style="stroke-width:2.3" fill="none"/>
<circle class="b" cx="1684" cy="908.08" r="4.6" style="stroke-width:2.3" fill="none"/>
<line class="b" x1="1775.92" y1="385.3" x2="1775.92" y2="496" />
<line class="b" x1="1775.92" y1="518.5" x2="1775.92" y2="540.4" />
<line class="b" x1="1775.92" y1="563.9" x2="1775.92" y2="684" />
<line class="b" x1="1775.92" y1="705" x2="1775.92" y2="728.4" />
<line class="b" x1="1775.92" y1="753" x2="1775.92" y2="871" />
<line class="b" x1="1775.92" y1="893" x2="1775.92" y2="911.7" />
<line class="b" x1="1775.92" y1="939.8" x2="1775.92" y2="1058.5" />
<line class="b" x1="1775.92" y1="1081.5" x2="1775.92" y2="1106.5" />
<line class="b" x1="1775.92" y1="1130" x2="1775.92" y2="1238" />
<line class="b" x1="1539" y1="703.8" x2="1617.2" y2="703.8" />
<line class="b" x1="1639.7" y1="703.8" x2="1665.8" y2="703.8" />
<line class="b" x1="1687.6" y1="703.8" x2="1804.7" y2="703.8" />
<line class="b" x1="1829" y1="703.8" x2="1853.3" y2="703.8" />
<line class="b" x1="1875.8" y1="703.8" x2="1993.9" y2="703.8" />
<line class="b" x1="2017.5" y1="703.8" x2="2040.8" y2="703.8" />
<line class="b" x1="2064.4" y1="703.8" x2="2143.2" y2="703.8" />
<line class="b" x1="1615" y1="1000" x2="1679.6" y2="1000" />
<line class="b" x1="1684.8" y1="1000" x2="1699.4" y2="1000" />
<line class="b" x1="1703.5" y1="1000" x2="1715" y2="1000" />
<line class="b" x1="1731.7" y1="1000" x2="1820.2" y2="1000" />
<line class="b" x1="1835.8" y1="1000" x2="1850.4" y2="1000" />
<line class="b" x1="1853.5" y1="1000" x2="1867" y2="1000" />
<line class="b" x1="1872.3" y1="1000" x2="1935.8" y2="1000" />
</g>
<g id="sidedims">
<line class="g" x1="1553.5" y1="216.6" x2="1553.5" y2="407" />
<line class="g" x1="2128.09" y1="216.6" x2="2128.09" y2="587.5" />
<line class="g" x1="1553.5" y1="228.5" x2="2128.09" y2="228.5" />
<polygon class="ar" points="1553.5,228.5 1567,226.4 1567,230.6"/>
<polygon class="ar" points="2128.09,228.5 2114.59,230.6 2114.59,226.4"/>
<text class="t" x="1840.7" y="222.5" font-size="23" text-anchor="middle" >155</text>
<line class="g" x1="2072.48" y1="266" x2="2072.48" y2="444.31" />
<line class="g" x1="1553.5" y1="277.1" x2="2072.48" y2="277.1" />
<polygon class="ar" points="1553.5,277.1 1567,275 1567,279.2"/>
<polygon class="ar" points="2072.48,277.1 2058.98,279.2 2058.98,275"/>
<text class="t" x="1727" y="268.6" font-size="23">140<tspan x="1765.9" y="268.2" font-size="26.6" style="font-weight:300">法兰面高度</tspan></text>
<line class="g" x1="2016.88" y1="305" x2="2016.88" y2="425.77" />
<line class="g" x1="1553.5" y1="317.2" x2="2016.88" y2="317.2" />
<polygon class="ar" points="1553.5,317.2 1567,315.1 1567,319.3"/>
<polygon class="ar" points="2016.88,317.2 2003.38,319.3 2003.38,315.1"/>
<line class="g" x1="2016.88" y1="317.2" x2="2072.48" y2="317.2" />
<polygon class="ar" points="2016.88,317.2 2030.38,315.1 2030.38,319.3"/>
<polygon class="ar" points="2072.48,317.2 2058.98,319.3 2058.98,315.1"/>
<line class="g" x1="2072.48" y1="317.2" x2="2128.09" y2="317.2" />
<polygon class="ar" points="2072.48,317.2 2085.98,315.1 2085.98,319.3"/>
<polygon class="ar" points="2128.09,317.2 2114.59,319.3 2114.59,315.1"/>
<text class="t" x="1785" y="312" font-size="23" text-anchor="middle" >125</text>
<text class="t" x="2045" y="312" font-size="23" text-anchor="middle" >15</text>
<text class="t" x="2100.3" y="312" font-size="23" text-anchor="middle" >15</text>
<line class="g" x1="1998.34" y1="344.5" x2="1998.34" y2="407" />
<line class="g" x1="1553.5" y1="356.5" x2="1998.34" y2="356.5" />
<polygon class="ar" points="1553.5,356.5 1567,354.4 1567,358.6"/>
<polygon class="ar" points="1998.34,356.5 1984.84,358.6 1984.84,354.4"/>
<text class="t" x="1776" y="351" font-size="23" text-anchor="middle" >120</text>
<line class="g" x1="1609.5" y1="377.4" x2="1609.5" y2="407" />
<line class="g" x1="1553.5" y1="389.2" x2="1609.5" y2="389.2" />
<polygon class="ar" points="1553.5,389.2 1567,387.1 1567,391.3"/>
<polygon class="ar" points="1609.5,389.2 1596,391.3 1596,387.1"/>
<text class="t" x="1581" y="383.8" font-size="23" text-anchor="middle" >15</text>
<line class="g" x1="1411" y1="407" x2="1553.5" y2="407" />
<line class="g" x1="1486" y1="703.8" x2="1538" y2="703.8" />
<line class="g" x1="1486" y1="1000" x2="1553.5" y2="1000" />
<line class="g" x1="1411" y1="1227" x2="1646" y2="1227" />
<line class="g" x1="1422.8" y1="407" x2="1422.8" y2="1227" />
<polygon class="ar" points="1422.8,407 1424.9,420.5 1420.7,420.5"/>
<polygon class="ar" points="1422.8,1227 1420.7,1213.5 1424.9,1213.5"/>
<line class="g" x1="1497.5" y1="407" x2="1497.5" y2="703.8" />
<polygon class="ar" points="1497.5,407 1499.6,420.5 1495.4,420.5"/>
<polygon class="ar" points="1497.5,703.8 1495.4,690.3 1499.6,690.3"/>
<line class="g" x1="1497.5" y1="703.8" x2="1497.5" y2="1000" />
<polygon class="ar" points="1497.5,703.8 1499.6,717.3 1495.4,717.3"/>
<polygon class="ar" points="1497.5,1000 1495.4,986.5 1499.6,986.5"/>
<line class="g" x1="1497.5" y1="1000" x2="1497.5" y2="1227" />
<polygon class="ar" points="1497.5,1000 1499.6,1013.5 1495.4,1013.5"/>
<polygon class="ar" points="1497.5,1227 1495.4,1213.5 1499.6,1213.5"/>
<text class="t" x="1418" y="814.8" font-size="23" text-anchor="middle" transform="rotate(-90 1418 814.8)" >221</text>
<text class="t" x="1493" y="554.5" font-size="23" text-anchor="middle" transform="rotate(-90 1493 554.5)" >80</text>
<text class="t" x="1493" y="850.8" font-size="23" text-anchor="middle" transform="rotate(-90 1493 850.8)" >80</text>
<text class="t" x="1493" y="1112" font-size="23" text-anchor="middle" transform="rotate(-90 1493 1112)" >61</text>
<line class="g" x1="2016.88" y1="425.77" x2="2338.4" y2="425.77" />
<line class="g" x1="2016.88" y1="981.82" x2="2338.4" y2="981.82" />
<line class="g" x1="2326.7" y1="425.77" x2="2326.7" y2="981.82" />
<polygon class="ar" points="2326.7,425.77 2328.8,439.27 2324.6,439.27"/>
<polygon class="ar" points="2326.7,981.82 2324.6,968.32 2328.8,968.32"/>
<line class="g" x1="2072.48" y1="444.31" x2="2295.9" y2="444.31" />
<line class="g" x1="2072.48" y1="963.29" x2="2295.9" y2="963.29" />
<line class="g" x1="2284.2" y1="444.31" x2="2284.2" y2="963.29" />
<polygon class="ar" points="2284.2,444.31 2286.3,457.81 2282.1,457.81"/>
<polygon class="ar" points="2284.2,963.29 2282.1,949.79 2286.3,949.79"/>
<line class="g" x1="2124.38" y1="536.98" x2="2244.7" y2="536.98" />
<line class="g" x1="2124.38" y1="870.62" x2="2244.7" y2="870.62" />
<line class="g" x1="2232.9" y1="536.98" x2="2232.9" y2="870.62" />
<polygon class="ar" points="2232.9,536.98 2235,550.48 2230.8,550.48"/>
<polygon class="ar" points="2232.9,870.62 2230.8,857.12 2235,857.12"/>
<line class="g" x1="2128.09" y1="648.19" x2="2196.1" y2="648.19" />
<line class="g" x1="2128.09" y1="759.4" x2="2196.1" y2="759.4" />
<line class="g" x1="2184.4" y1="648.19" x2="2184.4" y2="759.4" />
<polygon class="ar" points="2184.4,648.19 2186.5,661.69 2182.3,661.69"/>
<polygon class="ar" points="2184.4,759.4 2182.3,745.9 2186.5,745.9"/>
<text class="t" x="2179.4" y="703" font-size="23" text-anchor="middle" transform="rotate(-90 2179.4 703)" >φ30</text>
<text class="t" x="2227.9" y="704.4" font-size="23" text-anchor="middle" transform="rotate(-90 2227.9 704.4)" >φ90h7</text>
<text class="t" x="2279.8" y="703" font-size="23" text-anchor="middle" transform="rotate(-90 2279.8 703)" >φ140</text>
<text class="t" x="2321.7" y="703" font-size="23" text-anchor="middle" transform="rotate(-90 2321.7 703)" >φ150</text>
<line class="g" x1="2124.38" y1="488.7" x2="2124.38" y2="536.98" />
<line class="g" x1="2100.7" y1="500.5" x2="2124.38" y2="500.5" />
<polygon class="ar" points="2124.38,500.5 2110.88,502.6 2110.88,498.4"/>
<line class="g" x1="2128.09" y1="500.5" x2="2167.6" y2="500.5" />
<polygon class="ar" points="2128.09,500.5 2141.59,498.4 2141.59,502.6"/>
<text class="t" x="2160" y="495.4" font-size="23" text-anchor="middle" >1</text>
<text class="m" y="821.8"><tspan x="1597.64" font-size="30.5" textLength="125.71" lengthAdjust="spacing">启动位置</tspan></text>
<path class="g" d="M1597 827.8H1735L1774.4 962"  fill="none"/>
</g>
<g id="bottom" style="--bw:2.5">
<rect class="k2" x="633.9" y="2074" width="230" height="11.7" fill="url(#botD)"/>
<rect class="k2" x="582.09" y="2029.3" width="333.63" height="44.7" fill="url(#botD)"/>
<rect class="k2" x="489.41" y="1969.8" width="518.98" height="59.5" fill="url(#botD)"/>
<rect class="k2" x="470.88" y="1955" width="556.05" height="14.8" fill="url(#botD)"/>
<path class="k2" fill="url(#shaft)" d="M444.93 1687.73H270.99L266.99 1691.73V1757.87L270.99 1761.87H444.93Z"/>
<line class="k2" x1="271.39" y1="1687.73" x2="271.39" y2="1761.87" style="stroke-width:1.6"/>
<rect class="k2" x="444.93" y="1678.46" width="7.41" height="92.67" fill="#f0f0f0"/>
<path class="k2" fill="#f2f2f2" d="M268.49 1716.8Q268.99 1713.8 274.99 1713.8H404.27a11 11 0 0 1 0 22H274.99Q268.99 1735.8 268.49 1732.8"/>
<path class="k2" fill="url(#shaft)" d="M1052.87 1687.73H1226.81L1230.81 1691.73V1757.87L1226.81 1761.87H1052.87Z"/>
<line class="k2" x1="1226.41" y1="1687.73" x2="1226.41" y2="1761.87" style="stroke-width:1.6"/>
<rect class="k2" x="1045.46" y="1678.46" width="7.41" height="92.67" fill="#f0f0f0"/>
<path class="k2" fill="#f2f2f2" d="M1229.31 1716.8Q1228.81 1713.8 1222.81 1713.8H1093.53a11 11 0 0 0 0 22H1222.81Q1228.81 1735.8 1229.31 1732.8"/>
<rect class="k2" x="452.34" y="1509" width="593.12" height="446" fill="url(#botB)"/>
<path class="k2" d="M452.34 1564.3H601.2V1955.0M1045.46 1564.3H896.6V1955.0"  fill="none"/>
<line class="b" x1="748.9" y1="1495.8" x2="748.9" y2="1576.7" />
<line class="b" x1="748.9" y1="1597.7" x2="748.9" y2="1624.1" />
<line class="b" x1="748.9" y1="1645.2" x2="748.9" y2="1766.5" />
<line class="b" x1="748.9" y1="1787.6" x2="748.9" y2="1812.2" />
<line class="b" x1="748.9" y1="1833.3" x2="748.9" y2="1954.5" />
<line class="b" x1="748.9" y1="1966.8" x2="748.9" y2="1991.4" />
<line class="b" x1="748.9" y1="2012.5" x2="748.9" y2="2093.4" />
<line class="b" x1="251.1" y1="1724.8" x2="338.7" y2="1724.8" />
<line class="b" x1="358.9" y1="1724.8" x2="386.7" y2="1724.8" />
<line class="b" x1="407" y1="1724.8" x2="525.9" y2="1724.8" />
<line class="b" x1="548.6" y1="1724.8" x2="573.9" y2="1724.8" />
<line class="b" x1="594.2" y1="1724.8" x2="713.1" y2="1724.8" />
<line class="b" x1="735.8" y1="1724.8" x2="761.1" y2="1724.8" />
<line class="b" x1="783.9" y1="1724.8" x2="902.8" y2="1724.8" />
<line class="b" x1="923" y1="1724.8" x2="948.3" y2="1724.8" />
<line class="b" x1="971.1" y1="1724.8" x2="1091.5" y2="1724.8" />
<line class="b" x1="1114.5" y1="1724.8" x2="1138" y2="1724.8" />
<line class="b" x1="1160.9" y1="1724.8" x2="1246.8" y2="1724.8" />
</g>
<g id="keydetail">
<circle class="k" cx="1773" cy="1735.5" r="37.05" fill="url(#keyc)"/>
<rect class="k" x="1761.9" y="1689.6" width="22.2" height="21.4" fill="#ffffff"/>
<path class="b" d="M1718.9 1735.5H1758M1768 1735.5H1778M1788 1735.5H1827.8M1773.0 1681.7V1722M1773.0 1730V1741M1773.0 1750V1789.8"  fill="none"/>
<line class="g" x1="1761.9" y1="1651.5" x2="1761.9" y2="1689" />
<line class="g" x1="1784.1" y1="1651.5" x2="1784.1" y2="1689" />
<line class="g" x1="1738.2" y1="1662.9" x2="1761.9" y2="1662.9" />
<polygon class="ar" points="1761.9,1662.9 1748.4,1665 1748.4,1660.8"/>
<line class="g" x1="1784.1" y1="1662.9" x2="1922.2" y2="1662.9" />
<polygon class="ar" points="1784.1,1662.9 1797.6,1660.8 1797.6,1665"/>
<text class="m" y="1657.1"><tspan x="1813.3" font-size="24" textLength="11.5" lengthAdjust="spacingAndGlyphs">6</tspan><tspan x="1829.4" font-size="25.92" textLength="18.6" lengthAdjust="spacingAndGlyphs">±</tspan><tspan x="1852.6" font-size="24" textLength="63.9" lengthAdjust="spacingAndGlyphs">0.015</tspan></text>
<line class="g" x1="1784.1" y1="1689.3" x2="1890.5" y2="1689.3" />
<line class="g" x1="1773" y1="1772.55" x2="1890.5" y2="1772.55" />
<line class="g" x1="1878.8" y1="1689.3" x2="1878.8" y2="1892.6" />
<polygon class="ar" points="1878.8,1689.3 1880.9,1702.8 1876.7,1702.8"/>
<polygon class="ar" points="1878.8,1772.55 1876.7,1759.05 1880.9,1759.05"/>
<text class="m" transform="rotate(-90 1868.2 1890)"><tspan x="1868.2" y="1890" font-size="25" textLength="55" lengthAdjust="spacingAndGlyphs">22.5</tspan><tspan x="1924.5" y="1876" font-size="14" textLength="7.5" lengthAdjust="spacingAndGlyphs">0</tspan><tspan x="1925.4" y="1896" font-size="17" textLength="44" lengthAdjust="spacingAndGlyphs">-0.12</tspan></text>
<text class="m" y="1841.8"><tspan x="1734.03" font-size="28" textLength="82.94" lengthAdjust="spacing">输入轴</tspan></text>
</g>
</svg></body></html>
